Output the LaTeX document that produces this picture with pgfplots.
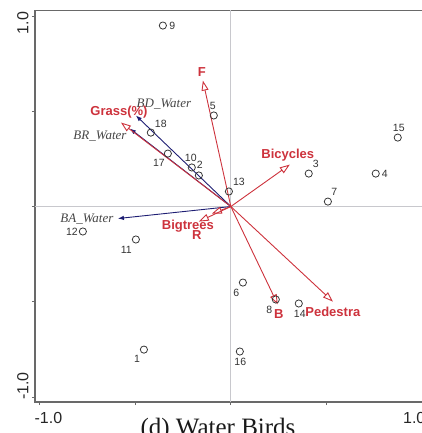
\documentclass[border=0pt]{standalone}
\usepackage{pgfplots}
\pgfplotsset{compat=1.18}
\usepackage{pgfplotstable}
\usepackage{fontspec}
\setmainfont{Liberation Sans}
\newfontfamily\serif{Liberation Serif}
\usetikzlibrary{arrows.meta}
\definecolor{envred}{RGB}{205,50,60}
\definecolor{spblue}{RGB}{30,30,115}
\definecolor{axgray}{RGB}{105,105,105}
\definecolor{sitegray}{RGB}{55,55,55}
\definecolor{zerogray}{RGB}{200,200,205}
\definecolor{labgray}{RGB}{70,70,70}
\tikzset{
  envarrow/.style={envred, line width=0.9bp, -{Triangle[open, length=10bp, width=7bp]}},
  envlab/.style={anchor=center, font=\bfseries\fontsize{13bp}{13bp}\selectfont, text=envred},
  sparrow/.style={spblue, line width=0.9bp, -{Latex[length=6bp,width=4.5bp]}},
  splab/.style={anchor=center, font=\serif\itshape\fontsize{13bp}{13bp}\selectfont, text=labgray}
}

% sites: x y label  label-offset (dx,dy in bp)
\pgfplotstableread{
x y lab dx dy
-0.454 -0.751 1 -7 -9
-0.167 0.163 2 1 11
0.407 0.173 3 7 10
0.757 0.173 4 9 0
-0.089 0.478 5 -1 10
0.063 -0.399 6 -6.5 -10
0.507 0.026 7 6.5 9.5
0.235 -0.488 8 -6.5 -10
-0.355 0.950 9 9.5 0
-0.204 0.205 10 -1 10
-0.496 -0.173 11 -9.5 -10
-0.773 -0.131 12 -11 0
-0.010 0.079 13 10 9.5
0.355 -0.509 14 1 -10
0.872 0.362 15 1 10
0.047 -0.761 16 0.5 -10
-0.329 0.278 17 -9 -9.5
-0.418 0.388 18 10 9
}\sites

\begin{document}
\begin{tikzpicture}
\path[use as bounding box] (-35bp,-31bp) rectangle (387bp,402bp);
\clip (-35bp,-31bp) rectangle (387bp,402bp);
\begin{axis}[
  at={(0,0)}, anchor=south west,
  scale only axis, width=393bp, height=391.5bp,
  xmin=-1.023, xmax=1.03, ymin=-1.026, ymax=1.029,
  xtick={-1,-0.5,0,0.5,1},
  xticklabels={\hspace*{18bp}-1.0,,,,1.0\hspace*{16bp}},
  ytick={-1,-0.5,0,0.5,1},
  yticklabels={\hspace*{22bp}-1.0,,,,1.0\hspace*{14bp}},
  xtick pos=bottom, ytick pos=left,
  tick align=outside, major tick length=3bp,
  axis line style={axgray, line width=1.1bp},
  tick style={axgray, line width=0.8bp},
  ticklabel style={font=\fontsize{16bp}{16bp}\selectfont, text=black!85},
  xticklabel style={yshift=-3.5bp},
  yticklabel style={rotate=90, anchor=south},
  xlabel={(d) Water Birds},
  xlabel style={at={(axis description cs:0.5,0)}, anchor=base,
    yshift=-33.5bp, xshift=-13.5bp,
    font=\serif\fontsize{25bp}{25bp}\selectfont, text=black!90},
  clip=false,
]
% zero lines
\addplot[zerogray, line width=0.8bp] coordinates {(0,-1.026) (0,1.029)};
\addplot[zerogray, line width=0.8bp] coordinates {(-1.023,0) (1.03,0)};

% species arrows (blue)
\addplot[sparrow] coordinates {(0,0) (-0.496,0.478)}
  node[pos=1, splab, xshift=28bp, yshift=11bp] {BD\_Water};
\addplot[sparrow] coordinates {(0,0) (-0.527,0.409)}
  node[pos=1, splab, xshift=-30bp, yshift=-7bp] {BR\_Water};
\addplot[sparrow] coordinates {(0,0) (-0.590,-0.063)}
  node[pos=1, splab, xshift=-31bp, yshift=-1bp] {BA\_Water};

% environmental arrows (red)
\addplot[envarrow] coordinates {(0,0) (-0.146,0.661)}
  node[pos=1, envlab, xshift=-1bp, yshift=9bp] {F};
\addplot[envarrow] coordinates {(0,0) (-0.574,0.441)}
  node[pos=1, envlab, xshift=-2bp, yshift=10bp] {Grass(\%)};
\addplot[envarrow] coordinates {(0,0) (0.308,0.220)}
  node[pos=1, envlab, xshift=-2bp, yshift=9bp] {Bicycles};
\addplot[envarrow] coordinates {(0,0) (-0.099,-0.037)}
  node[pos=1, envlab, xshift=-24bp, yshift=-13bp] {Bigtrees};
\addplot[envarrow] coordinates {(0,0) (-0.167,-0.079)}
  node[pos=1, envlab, xshift=-2bp, yshift=-13bp] {R};
\addplot[envarrow] coordinates {(0,0) (0.245,-0.514)}
  node[pos=1, envlab, xshift=1bp, yshift=-10bp] {B};
\addplot[envarrow] coordinates {(0,0) (0.533,-0.499)}
  node[pos=1, envlab, xshift=0bp, yshift=-10bp] {Pedestra};

% sites
\addplot[only marks, mark=o, mark size=3.6bp,
  mark options={draw=sitegray, line width=0.8bp},
  visualization depends on={\thisrow{dx}\as\ddx},
  visualization depends on={\thisrow{dy}\as\ddy},
  nodes near coords, point meta=explicit symbolic,
  nodes near coords style={anchor=center, xshift=\ddx bp, yshift=\ddy bp,
     inner sep=0pt, font=\fontsize{10.5bp}{10.5bp}\selectfont, text=black!80}]
  table[x=x, y=y, meta=lab] {\sites};
\end{axis}
\end{tikzpicture}
\end{document}
